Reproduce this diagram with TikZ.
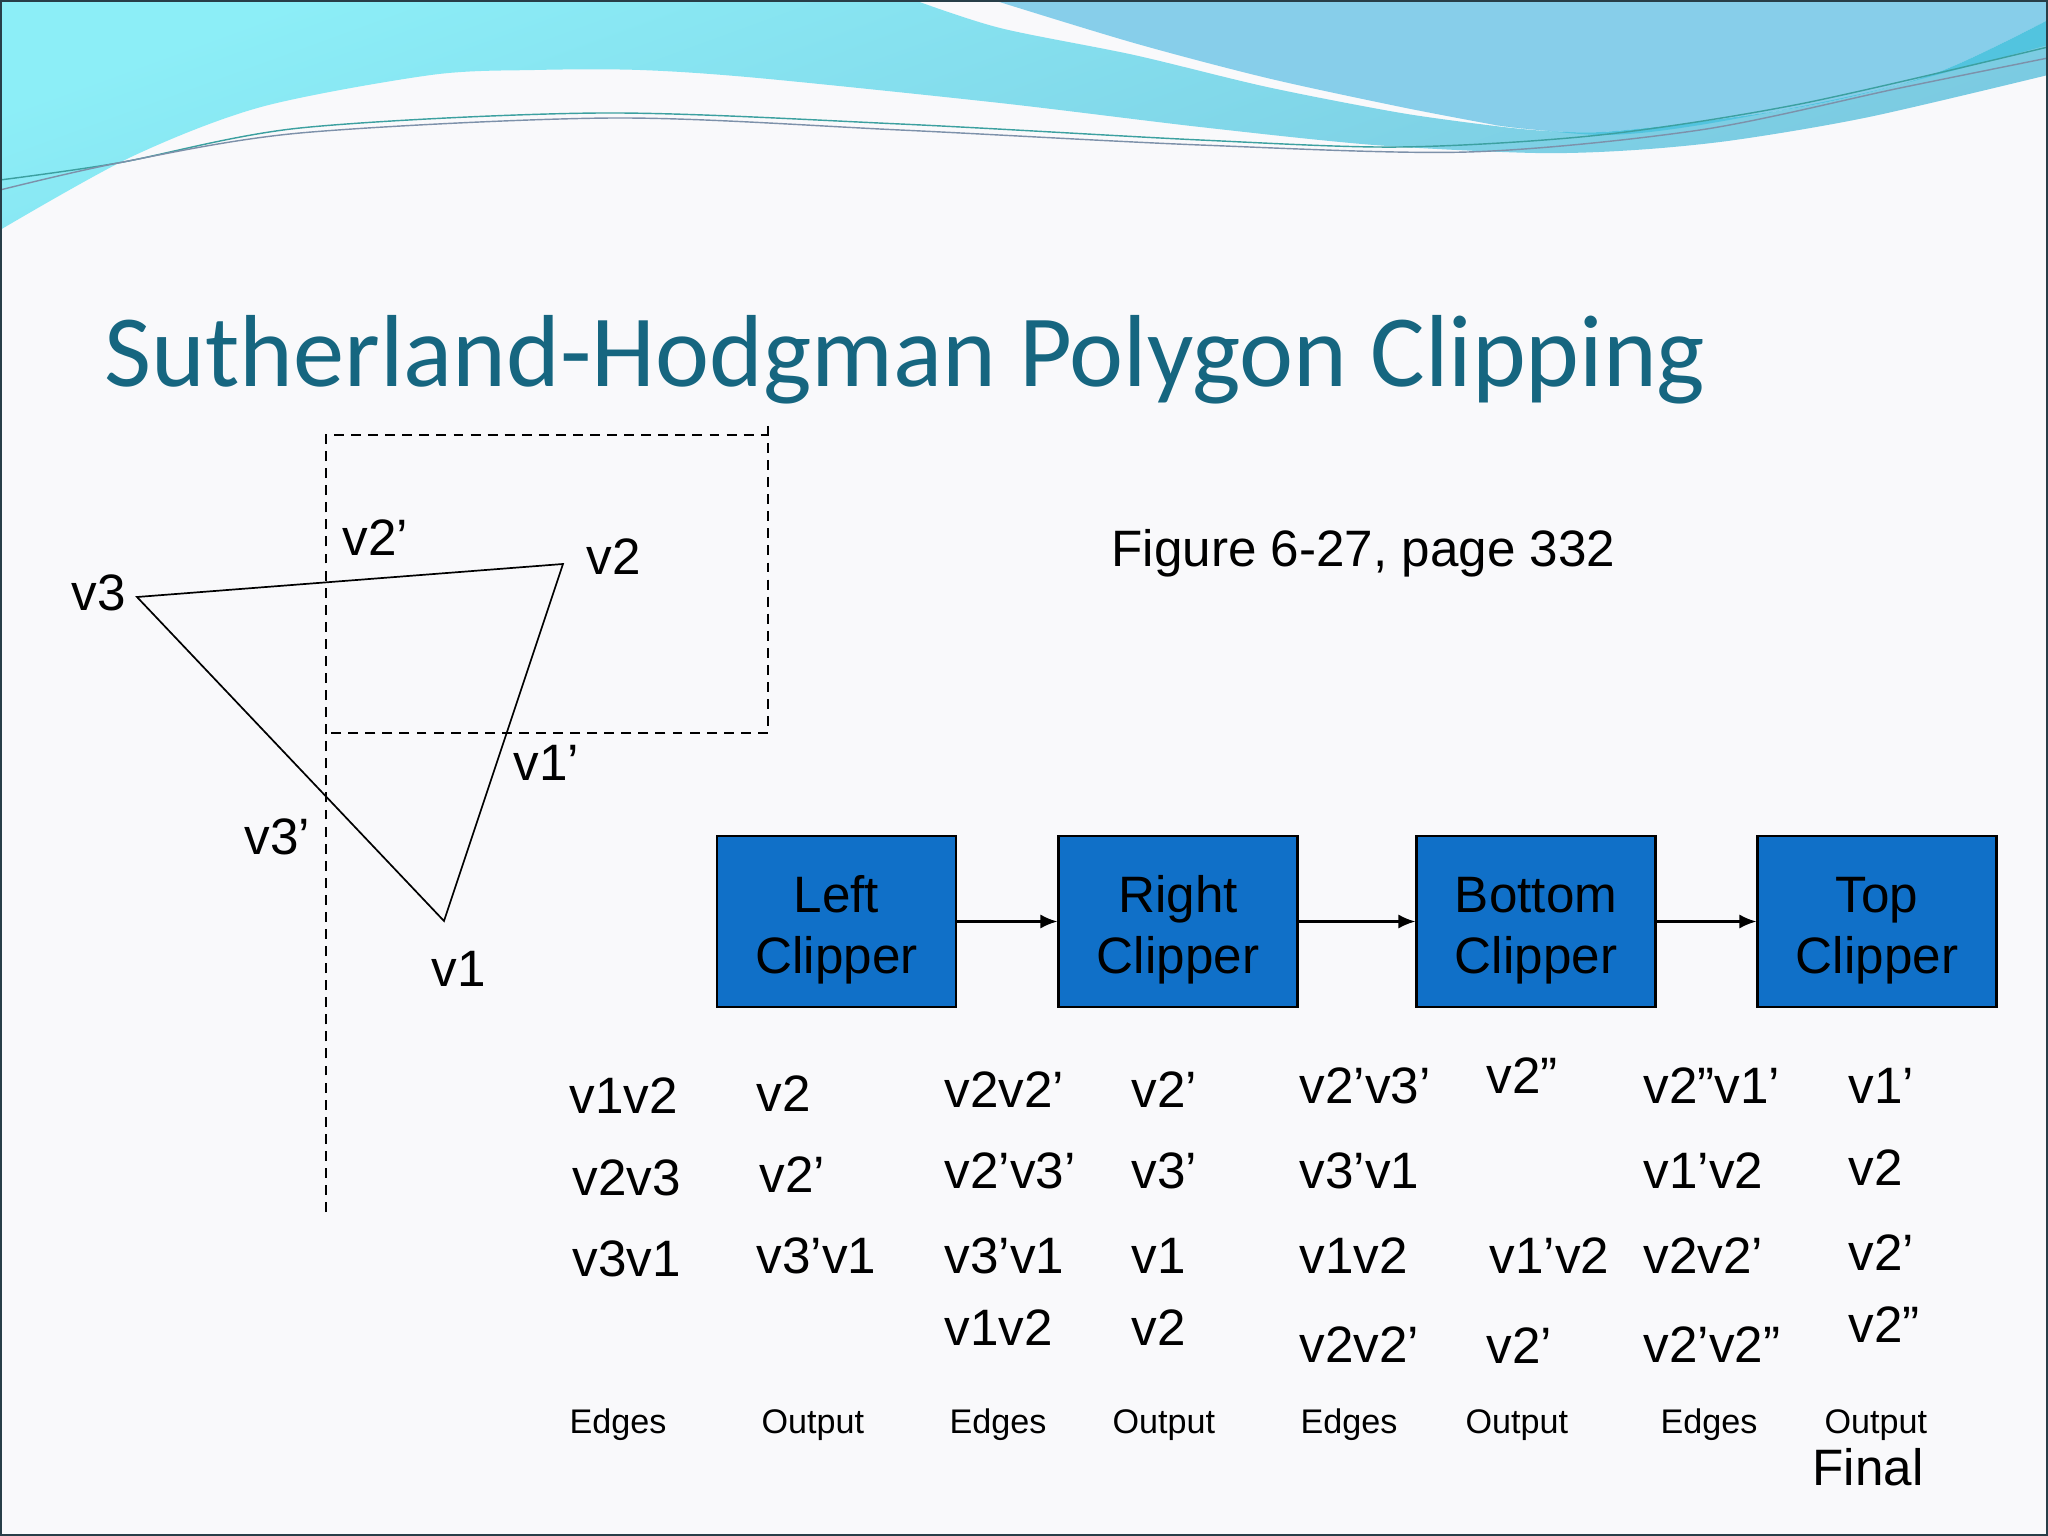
\documentclass[tikz,border=0pt]{standalone}
\usepackage{fontspec}
\setmainfont{Liberation Sans}
\newfontfamily\titlefont{Carlito}
\usetikzlibrary{arrows.meta}

\definecolor{slidebg}{RGB}{249,249,251}
\definecolor{titleteal}{RGB}{22,102,128}
\definecolor{clipblue}{RGB}{16,112,200}
\definecolor{wavecyan}{RGB}{140,238,247}
\definecolor{wavecyanlow}{RGB}{122,200,224}
\definecolor{waveblue}{RGB}{135,206,234}
\definecolor{waveribbon}{RGB}{72,194,222}
\definecolor{framegray}{RGB}{40,62,72}

\newcommand{\boxstrut}{\rule{0pt}{19pt}}

\begin{document}
\begin{tikzpicture}[%
            x=0.3515625pt,
            y=-0.3515625pt,
            >={Latex[length=6pt,width=5pt]},
            font=\fontsize{18}{21.6}\selectfont,
            ]
    \tikzset{lbl/.style = {anchor=base west, inner sep=0pt}}
    \tikzset{small/.style = {lbl, font=\fontsize{12}{14}\selectfont}}
    \tikzset{clipper/.style = {draw=black, line width=0.8pt, fill=clipblue, minimum width=84pt, minimum height=60pt, align=center, inner sep=0pt}}
    \tikzset{window/.style = {line width=0.5pt, dash pattern=on 3.5pt off 2.5pt}}
    \tikzset{wire/.style = {line width=0.5pt}}

    \useasboundingbox (0,0) rectangle (2048,1536);
    \fill[slidebg] (0,0) rectangle (2048,1536);

    % Waves
    \shade[top color=wavecyan, bottom color=wavecyanlow, shading angle=20] (0,0) -- (914,0)
        -- plot[smooth] coordinates {(914,0) (1000,28) (1134,55) (1267,87) (1401,113) (1495,126)}
        -- plot[smooth] coordinates {(1495,126) (1602,132) (1802,107) (1936,73) (2048,20)}
        -- (2048,75)
        -- plot[smooth] coordinates {(2048,75) (1869,117) (1735,140) (1635,150) (1535,153) (1374,145) (1200,127) (1000,103) (758,78) (640,70) (535,70) (431,75) (261,107) (131,157) (0,230)}
        -- cycle;
    \fill[waveblue] (993,0) -- (2048,0) -- (2048,20)
        -- plot[smooth] coordinates {(2048,20) (1936,73) (1802,107) (1602,132) (1495,125)}
        -- plot[smooth] coordinates {(1495,125) (1401,107) (1267,78) (1134,43) (993,0)}
        -- cycle;
    \fill[waveribbon, opacity=0.8] (1495,125)
        -- plot[smooth] coordinates {(1495,125) (1602,135) (1700,125) (1869,92) (2048,45)}
        -- (2048,20)
        -- plot[smooth] coordinates {(2048,20) (1936,73) (1802,107) (1602,132) (1495,125)}
        -- cycle;
    \draw[wire, color={rgb,255:red,60;green,160;blue,160}] plot[smooth] coordinates {(0,180) (118,163) (300,128) (601,113) (900,124) (1200,140) (1401,147) (1600,135) (1800,104) (2048,47)};
    \draw[wire, color={rgb,255:red,125;green,145;blue,170}] plot[smooth] coordinates {(0,190) (118,163) (300,133) (614,118) (900,130) (1200,145) (1468,152) (1700,130) (1900,88) (2048,58)};

    % Title
    \node[anchor=base west, inner sep=0pt, font=\titlefont\fontsize{36}{43}\selectfont, text=titleteal] (title) at (104,387) {Sutherland-Hodgman Polygon Clipping};
    \node[lbl] (fig) at (1111,566) {Figure 6-27, page 332};

    % Clip window
    \coordinate (wtl) at (326,435);
    \coordinate (wbl) at (326,1212);
    \coordinate (wtr) at (768,435);
    \coordinate (wtop) at (768,426);
    \coordinate (wbr) at (768,733);
    \coordinate (wbot) at (326,733);
    \draw[window] (wbl) -- (wtl) -- (wtr);
    \draw[window] (wtop) -- (wbr) -- (wbot);

    % Triangle
    \coordinate (v1) at (444,921);
    \coordinate (v2) at (563,564);
    \coordinate (v3) at (137,597);
    \draw[line width=0.6pt] (v1) -- (v2) -- (v3) -- cycle;
    \node[lbl] (lv3) at (71,610) {v3};
    \node[lbl] (lv2p) at (342,556) {v2’};
    \node[lbl] (lv2) at (586,574) {v2};
    \node[lbl] (lv1p) at (513,780) {v1’};
    \node[lbl] (lv3p) at (244,854) {v3’};
    \node[lbl] (lv1) at (431,986) {v1};

    % Clippers
    \node[clipper] (lc) at (836.5,921.5) {\boxstrut Left\\Clipper};
    \node[clipper] (rc) at (1178,921.5) {\boxstrut Right\\Clipper};
    \node[clipper] (bc) at (1536,921.5) {\boxstrut Bottom\\Clipper};
    \node[clipper] (tc) at (1877,921.5) {\boxstrut Top\\Clipper};
    \draw[->, line width=0.8pt] (lc) -- (rc);
    \draw[->, line width=0.8pt] (rc) -- (bc);
    \draw[->, line width=0.8pt] (bc) -- (tc);

    % Left clipper
    \node[lbl] (lcE1) at (569,1113) {v1v2};
    \node[lbl] (lcE2) at (572,1195) {v2v3};
    \node[lbl] (lcE3) at (572,1276) {v3v1};
    \node[lbl] (lcO1) at (756,1111) {v2};
    \node[lbl] (lcO2) at (759,1192) {v2’};
    \node[lbl] (lcO3) at (756,1273) {v3’v1};

    % Right clipper
    \node[lbl] (rcE1) at (944,1107) {v2v2’};
    \node[lbl] (rcE2) at (944,1188) {v2’v3’};
    \node[lbl] (rcE3) at (944,1273) {v3’v1};
    \node[lbl] (rcE4) at (944,1345) {v1v2};
    \node[lbl] (rcO1) at (1131,1107) {v2’};
    \node[lbl] (rcO2) at (1131,1188) {v3’};
    \node[lbl] (rcO3) at (1131,1273) {v1};
    \node[lbl] (rcO4) at (1131,1345) {v2};

    % Bottom clipper
    \node[lbl] (bcE1) at (1299,1103) {v2’v3’};
    \node[lbl] (bcE2) at (1299,1188) {v3’v1};
    \node[lbl] (bcE3) at (1299,1273) {v1v2};
    \node[lbl] (bcE4) at (1299,1362) {v2v2’};
    \node[lbl] (bcO1) at (1486,1093) {v2”};
    \node[lbl] (bcO2) at (1489,1273) {v1’v2};
    \node[lbl] (bcO3) at (1486,1363) {v2’};

    % Top clipper
    \node[lbl] (tcE1) at (1643,1103) {v2”v1’};
    \node[lbl] (tcE2) at (1643,1188) {v1’v2};
    \node[lbl] (tcE3) at (1643,1273) {v2v2’};
    \node[lbl] (tcE4) at (1643,1362) {v2’v2”};
    \node[lbl] (tcO1) at (1848,1103) {v1’};
    \node[lbl] (tcO2) at (1848,1185) {v2};
    \node[lbl] (tcO3) at (1848,1270) {v2’};
    \node[lbl] (tcO4) at (1848,1342) {v2”};

    % Column heads
    \node[small] (hE1) at (569,1433) {Edges};
    \node[small] (hO1) at (761,1433) {Output};
    \node[small] (hE2) at (949,1433) {Edges};
    \node[small] (hO2) at (1112,1433) {Output};
    \node[small] (hE3) at (1300,1433) {Edges};
    \node[small] (hO3) at (1465,1433) {Output};
    \node[small] (hE4) at (1660,1433) {Edges};
    \node[small] (hO4) at (1824,1433) {Output};
    \node[lbl] (final) at (1812,1485) {Final};

    % Frame
    \draw[framegray, line width=0.7pt] (1,1) rectangle (2047,1535);

    \end{tikzpicture}
\end{document}
